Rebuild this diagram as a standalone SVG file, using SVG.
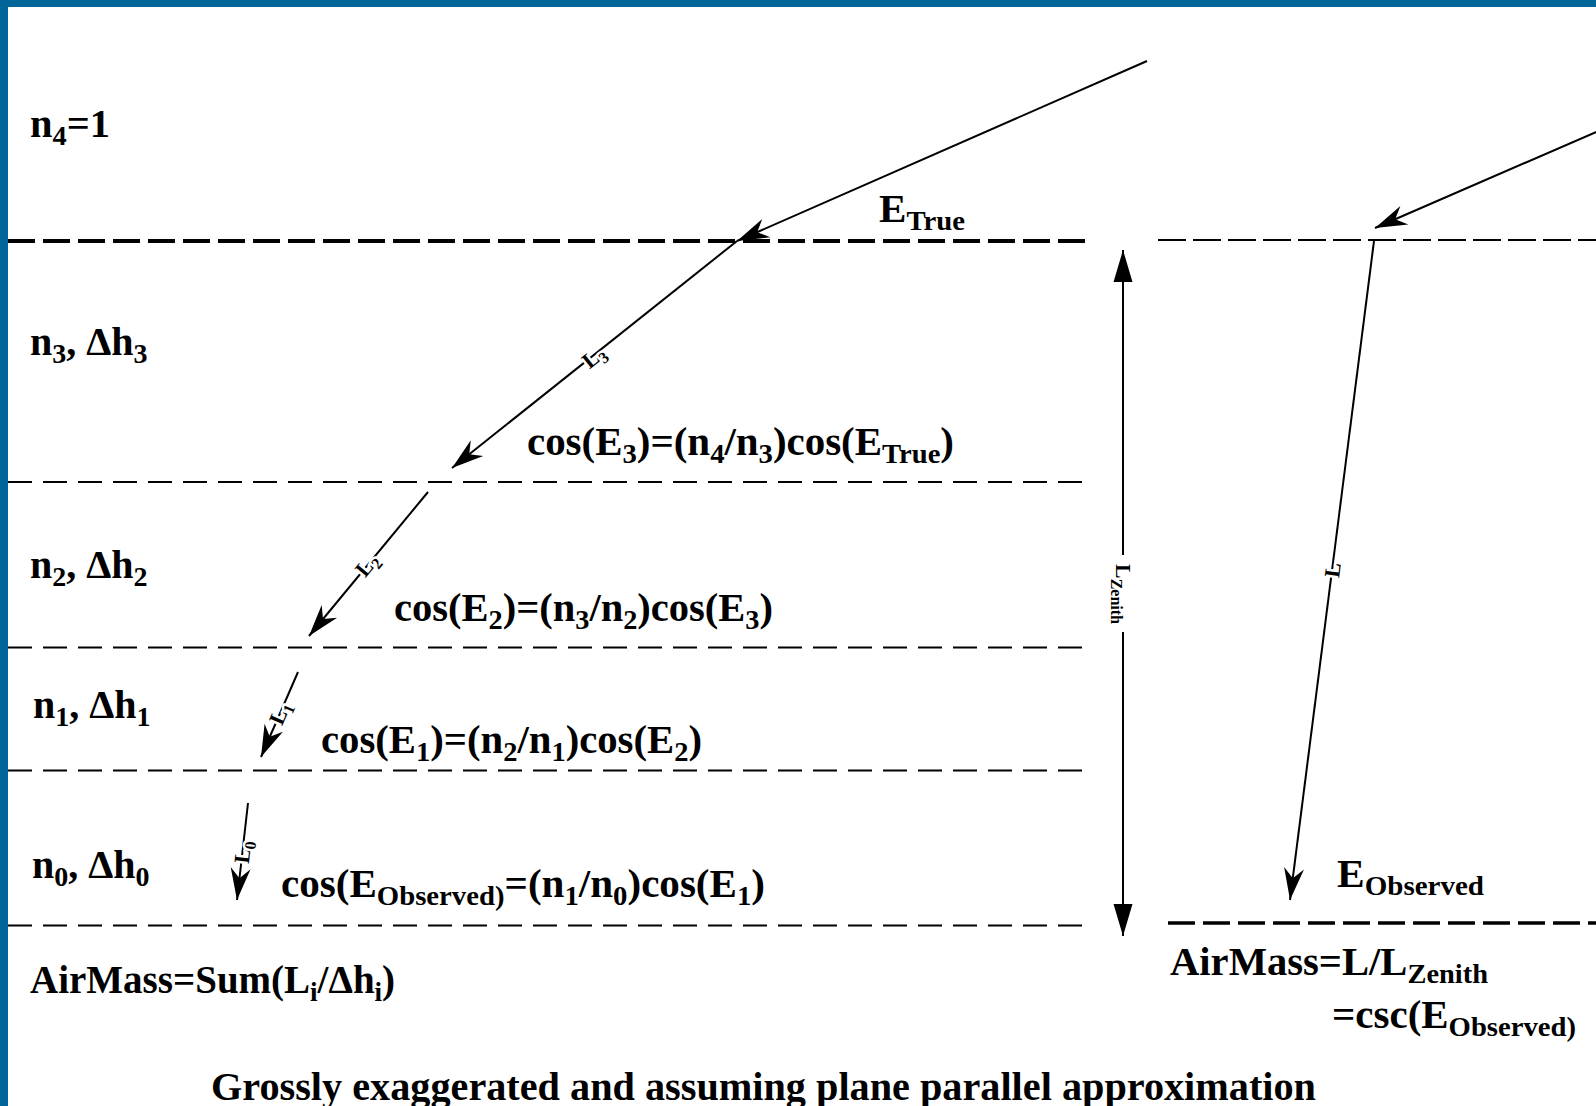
<svg xmlns="http://www.w3.org/2000/svg" width="1596" height="1106" viewBox="0 0 1596 1106">
<style>
.t{font-family:"Liberation Serif","Times New Roman",serif;font-weight:bold;font-size:40px;fill:#000}
.s{font-size:28px}
.lbl{font-family:"Liberation Serif","Times New Roman",serif;font-weight:bold;font-size:22px;fill:#000;stroke:#fff;stroke-width:5px;paint-order:stroke;stroke-linejoin:round}
.ls{font-size:16px}
.thick{stroke:#000;stroke-width:4;stroke-dasharray:27 8;fill:none}
.thin{stroke:#000;stroke-width:2;stroke-dasharray:24 11;fill:none}
.ray{stroke:#000;stroke-width:2;fill:none;marker-end:url(#barb)}
.dim{stroke:#000;stroke-width:2;fill:none;marker-end:url(#tri)}
</style>
<defs>
<marker id="barb" markerUnits="userSpaceOnUse" orient="auto" viewBox="-36 -14 40 28" markerWidth="40" markerHeight="28" refX="0" refY="0">
<path d="M0,0 L-32,-10 L-22,0 L-32,10 Z" fill="#000"/>
</marker>
<marker id="tri" markerUnits="userSpaceOnUse" orient="auto" viewBox="-36 -14 40 28" markerWidth="40" markerHeight="28" refX="0" refY="0">
<path d="M0,0 L-32,-9.5 L-32,9.5 Z" fill="#000"/>
</marker>
</defs>
<rect x="0" y="0" width="1596" height="1106" fill="#fff"/>
<rect x="0" y="0" width="1596" height="7" fill="#006699"/>
<rect x="0" y="0" width="8" height="1106" fill="#006699"/>

<g id="boundaries">
<line class="thick" x1="8" y1="241" x2="1087" y2="241"/>
<line x1="1158" y1="240" x2="1596" y2="240" stroke="#000" stroke-width="2" stroke-dasharray="28 7"/>
<line class="thin" x1="8" y1="482" x2="1087" y2="482"/>
<line class="thin" x1="8" y1="647.5" x2="1087" y2="647.5"/>
<line class="thin" x1="8" y1="770.5" x2="1087" y2="770.5"/>
<line class="thin" x1="8" y1="925.5" x2="1087" y2="925.5"/>
<line x1="1168" y1="923" x2="1596" y2="923" stroke="#000" stroke-width="3.5" stroke-dasharray="27 8"/>
</g>

<g id="connectors">
<path class="ray" d="M1147,61 L737,241"/>
<path class="ray" d="M737,241 L452,468"/>
<path class="ray" d="M428,492 L309,636"/>
<path class="ray" d="M298,672 L261,757"/>
<path class="ray" d="M248,803 L237,900"/>
<path class="ray" d="M1600,130.3 L1375,228"/>
<path class="ray" d="M1374,241 L1290,900"/>
<path class="dim" d="M1123,555 L1123,250"/>
<path class="dim" d="M1123,632 L1123,936"/>
</g>

<g id="path-labels">
<text class="lbl" transform="translate(594,357) rotate(-38.7)" x="0" y="7" text-anchor="middle">L<tspan class="ls" dy="5">3</tspan></text>
<text class="lbl" transform="translate(367,565) rotate(-50.4)" x="0" y="7" text-anchor="middle">L<tspan class="ls" dy="5">2</tspan></text>
<text class="lbl" transform="translate(280,713) rotate(-66.5)" x="0" y="7" text-anchor="middle">L<tspan class="ls" dy="5">1</tspan></text>
<text class="lbl" transform="translate(243,852) rotate(-83.5)" x="0" y="7" text-anchor="middle">L<tspan class="ls" dy="5">0</tspan></text>
<text class="lbl" transform="translate(1333,570) rotate(-82.7)" x="0" y="7" text-anchor="middle">L</text>
<text class="lbl" transform="translate(1123,594) rotate(90)" x="0" y="7" text-anchor="middle">L<tspan class="ls" dy="5">Zenith</tspan></text>
</g>

<g id="layer-4"><text class="t" x="30" y="137" textLength="80" lengthAdjust="spacingAndGlyphs">n<tspan class="s" dy="8">4</tspan><tspan dy="-8">=1</tspan></text></g>
<g id="layer-3"><text class="t" x="30" y="355">n<tspan class="s" dy="8">3</tspan><tspan dy="-8">, Δh</tspan><tspan class="s" dy="8">3</tspan></text></g>
<g id="layer-2"><text class="t" x="30" y="578">n<tspan class="s" dy="8">2</tspan><tspan dy="-8">, Δh</tspan><tspan class="s" dy="8">2</tspan></text></g>
<g id="layer-1"><text class="t" x="33" y="718">n<tspan class="s" dy="8">1</tspan><tspan dy="-8">, Δh</tspan><tspan class="s" dy="8">1</tspan></text></g>
<g id="layer-0"><text class="t" x="32" y="878">n<tspan class="s" dy="8">0</tspan><tspan dy="-8">, Δh</tspan><tspan class="s" dy="8">0</tspan></text></g>

<g id="e-true"><text class="t" x="879" y="222" textLength="86" lengthAdjust="spacingAndGlyphs">E<tspan class="s" dy="8">True</tspan></text></g>
<g id="eq-3"><text class="t" x="527" y="455" textLength="427" lengthAdjust="spacingAndGlyphs">cos(E<tspan class="s" dy="8">3</tspan><tspan dy="-8">)=(n</tspan><tspan class="s" dy="8">4</tspan><tspan dy="-8">/n</tspan><tspan class="s" dy="8">3</tspan><tspan dy="-8">)cos(E</tspan><tspan class="s" dy="8">True</tspan><tspan dy="-8">)</tspan></text></g>
<g id="eq-2"><text class="t" x="394" y="621" textLength="379" lengthAdjust="spacingAndGlyphs">cos(E<tspan class="s" dy="8">2</tspan><tspan dy="-8">)=(n</tspan><tspan class="s" dy="8">3</tspan><tspan dy="-8">/n</tspan><tspan class="s" dy="8">2</tspan><tspan dy="-8">)cos(E</tspan><tspan class="s" dy="8">3</tspan><tspan dy="-8">)</tspan></text></g>
<g id="eq-1"><text class="t" x="321" y="753" textLength="381" lengthAdjust="spacingAndGlyphs">cos(E<tspan class="s" dy="8">1</tspan><tspan dy="-8">)=(n</tspan><tspan class="s" dy="8">2</tspan><tspan dy="-8">/n</tspan><tspan class="s" dy="8">1</tspan><tspan dy="-8">)cos(E</tspan><tspan class="s" dy="8">2</tspan><tspan dy="-8">)</tspan></text></g>
<g id="eq-0"><text class="t" x="281" y="897" textLength="484" lengthAdjust="spacingAndGlyphs">cos(E<tspan class="s" dy="8">Observed)</tspan><tspan dy="-8">=(n</tspan><tspan class="s" dy="8">1</tspan><tspan dy="-8">/n</tspan><tspan class="s" dy="8">0</tspan><tspan dy="-8">)cos(E</tspan><tspan class="s" dy="8">1</tspan><tspan dy="-8">)</tspan></text></g>
<g id="airmass-sum"><text class="t" x="30" y="993" style="font-size:39px">AirMass=Sum(L<tspan dy="8" style="font-size:27px">i</tspan><tspan dy="-8">/Δh</tspan><tspan dy="8" style="font-size:27px">i</tspan><tspan dy="-8">)</tspan></text></g>

<g id="e-observed"><text class="t" x="1337" y="887" textLength="147" lengthAdjust="spacingAndGlyphs">E<tspan class="s" dy="8">Observed</tspan></text></g>
<g id="airmass-ratio"><text class="t" x="1170" y="975" textLength="318" lengthAdjust="spacingAndGlyphs">AirMass=L/L<tspan class="s" dy="8">Zenith</tspan></text></g>
<g id="airmass-csc"><text class="t" x="1332" y="1028" textLength="244" lengthAdjust="spacingAndGlyphs">=csc(E<tspan class="s" dy="8">Observed)</tspan></text></g>

<g id="caption"><text class="t" x="211" y="1100" textLength="1105" lengthAdjust="spacingAndGlyphs">Grossly exaggerated and assuming plane parallel approximation</text></g>
</svg>
